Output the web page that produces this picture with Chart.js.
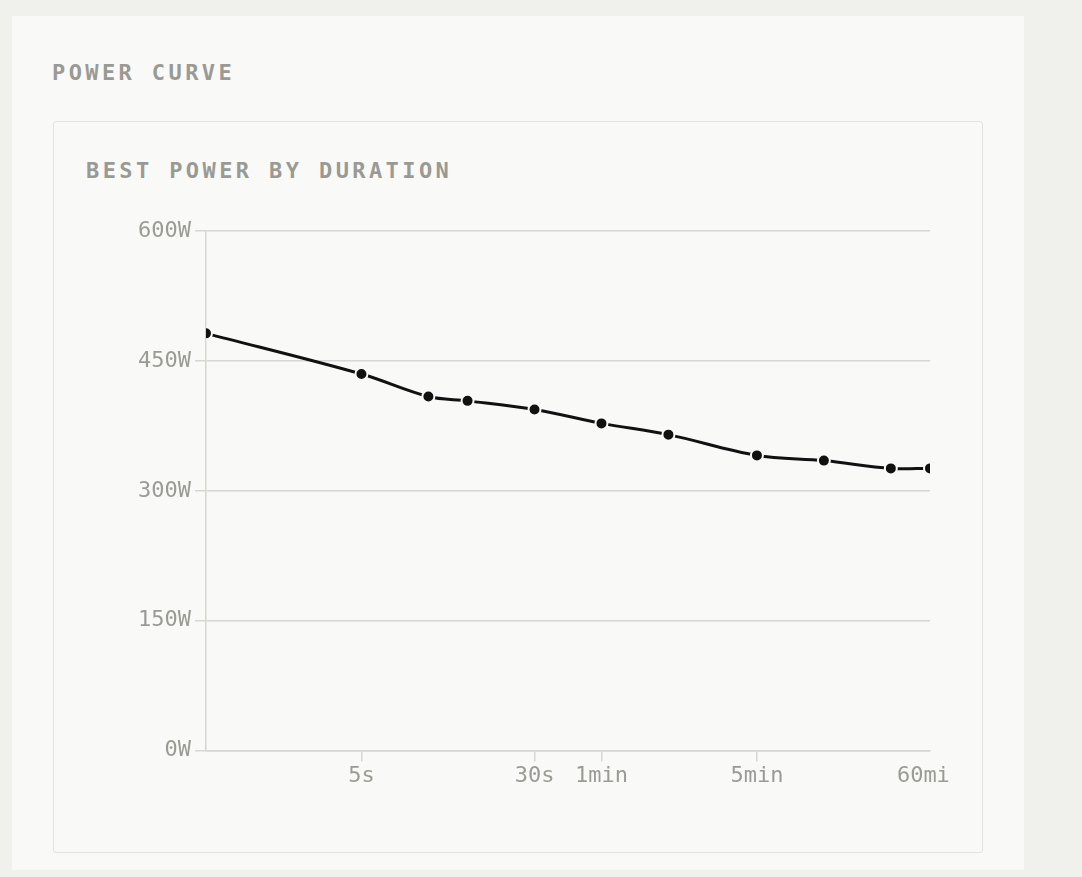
<!DOCTYPE html>
<html>
<head>
<meta charset="utf-8">
<title>Power Curve</title>
<script src="https://cdn.jsdelivr.net/npm/chart.js@4.4.1/dist/chart.umd.min.js"></script>
<style>
    html, body {
        margin: 0;
        padding: 0;
        background: #f0f0ec;
        width: 1082px;
        height: 877px;
        overflow: hidden;
        font-family: "DejaVu Sans Mono", monospace;
    }
    .card {
        position: absolute;
        left: 12px;
        top: 16px;
        width: 1012px;
        height: 854px;
        background: #f9f9f7;
    }
    .title {
        position: absolute;
        font-size: 22px;
        line-height: 22px;
        font-weight: bold;
        letter-spacing: 3.4px;
        color: #9a9a94;
        white-space: nowrap;
    }
    .inner {
        position: absolute;
        left: 53px;
        top: 121px;
        width: 928px;
        height: 730px;
        border: 1px solid #e3e3df;
        border-radius: 3px;
    }
    .chart-box {
        position: absolute;
        left: 134px;
        top: 214px;
        width: 816px;
        height: 576px;
    }
</style>
</head>
<body>
    <div class="card"></div>
    <div class="title" style="left:52px; top:62px;">POWER CURVE</div>
    <div class="inner"></div>
    <div class="title" style="left:86px; top:160px;">BEST POWER BY DURATION</div>
    <div class="chart-box"><canvas id="powerChart"></canvas></div>

<script>
// durations in seconds and best average power in watts
const durations = [1, 5, 10, 15, 30, 60, 120, 300, 600, 1200, 1800];
const bestWatts = [482, 435, 409, 404, 394, 378, 365, 341, 335, 326, 326];

const xTickValues = [5, 30, 60, 300, 1800];
const xTickLabels = ['5s', '30s', '1min', '5min', '60min'];
const yTickValues = [0, 150, 300, 450, 600];

const gridColor = '#d6d6d2';
const labelColor = '#9b9b95';

document.addEventListener('DOMContentLoaded', () => {
    const ctx = document.getElementById('powerChart').getContext('2d');

    new Chart(ctx, {
        type: 'line',
        data: {
            datasets: [{
                label: 'Best power',
                data: durations.map((d, i) => ({ x: d, y: bestWatts[i] })),
                borderColor: '#111111',
                borderWidth: 3,
                tension: 0.35,
                pointRadius: 6,
                pointHoverRadius: 6,
                pointBackgroundColor: '#111111',
                pointBorderColor: '#f9f9f7',
                pointBorderWidth: 2,
                fill: false
            }]
        },
        options: {
            responsive: true,
            maintainAspectRatio: false,
            animation: false,
            layout: {
                padding: { left: 0, right: 20, top: 0, bottom: 0 }
            },
            plugins: {
                legend: { display: false },
                tooltip: { enabled: false }
            },
            scales: {
                x: {
                    type: 'logarithmic',
                    min: 1,
                    max: 1800,
                    afterBuildTicks: (scale) => {
                        scale.ticks = xTickValues.map(v => ({ value: v }));
                    },
                    afterFit: (scale) => {
                        // let the last label run off the edge like the original
                        scale.paddingRight = 0;
                        scale.paddingLeft = 0;
                    },
                    border: { display: true, color: gridColor, width: 1.5 },
                    grid: {
                        drawOnChartArea: false,
                        tickLength: 11,
                        lineWidth: 1.5,
                        color: (c) => c.index === xTickValues.length - 1 ? 'rgba(0,0,0,0)' : gridColor
                    },
                    ticks: {
                        autoSkip: false,
                        maxRotation: 0,
                        padding: 1,
                        color: labelColor,
                        font: { family: 'DejaVu Sans Mono', size: 22 },
                        callback: (value, index) => xTickLabels[index]
                    }
                },
                y: {
                    min: 0,
                    max: 600,
                    afterBuildTicks: (scale) => {
                        scale.ticks = yTickValues.map(v => ({ value: v }));
                    },
                    border: { display: true, color: gridColor, width: 1.5 },
                    grid: {
                        color: gridColor,
                        lineWidth: 1.5,
                        tickLength: 11
                    },
                    ticks: {
                        padding: 4,
                        color: labelColor,
                        font: { family: 'DejaVu Sans Mono', size: 22 },
                        callback: (value) => value + 'W'
                    }
                }
            }
        }
    });
});
</script>
</body>
</html>
